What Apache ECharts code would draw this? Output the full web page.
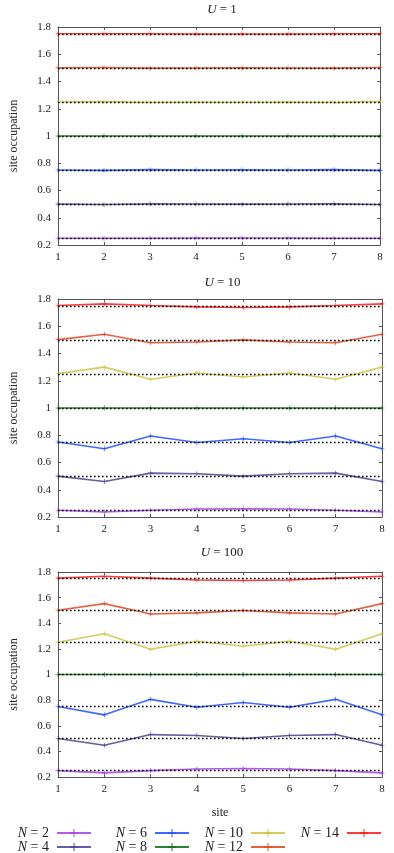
<!DOCTYPE html>
<html>
<head>
<meta charset="utf-8">
<script src="https://cdn.jsdelivr.net/npm/echarts@6/dist/echarts.min.js"></script>
<style>
html,body{margin:0;padding:0;background:#fff}
#chart{width:394px;height:853px}
</style>
</head>
<body>
<div id="chart"></div>
<script>
// sites along the chain
var sites = [1, 2, 3, 4, 5, 6, 7, 8]
var names = ['N = 2', 'N = 4', 'N = 6', 'N = 8', 'N = 10', 'N = 12', 'N = 14']
var colors = ['#a53ee6', '#4b3f8f', '#1f4dff', '#0b6e10', '#c9c642', '#e0441e', '#ff1a1a']
// N/L reference levels (dotted)
var refLevels = [0.25, 0.5, 0.75, 1, 1.25, 1.5, 1.75]
var panelTitles = ['1', '10', '100']

// U = 1
var u1_n2  = [0.25, 0.249, 0.25, 0.251, 0.251, 0.251, 0.25, 0.249]
var u1_n4  = [0.5, 0.497, 0.502, 0.501, 0.5, 0.501, 0.502, 0.497]
var u1_n6  = [0.75, 0.748, 0.753, 0.75, 0.752, 0.75, 0.753, 0.748]
var u1_n8  = [1, 1, 1, 1, 1, 1, 1, 1]
var u1_n10 = [1.25, 1.252, 1.247, 1.25, 1.248, 1.25, 1.247, 1.252]
var u1_n12 = [1.5, 1.503, 1.498, 1.499, 1.5, 1.499, 1.498, 1.503]
var u1_n14 = [1.75, 1.751, 1.75, 1.749, 1.749, 1.749, 1.75, 1.751]

// U = 10
var u10_n2  = [0.249, 0.237, 0.249, 0.259, 0.261, 0.259, 0.249, 0.237]
var u10_n4  = [0.5, 0.461, 0.522, 0.517, 0.5, 0.517, 0.522, 0.461]
var u10_n6  = [0.75, 0.701, 0.794, 0.747, 0.774, 0.747, 0.794, 0.701]
var u10_n8  = [1, 1, 1, 1, 1, 1, 1, 1]
var u10_n10 = [1.252, 1.3, 1.211, 1.257, 1.228, 1.257, 1.211, 1.3]
var u10_n12 = [1.502, 1.541, 1.479, 1.484, 1.5, 1.484, 1.479, 1.541]
var u10_n14 = [1.752, 1.764, 1.752, 1.742, 1.738, 1.742, 1.752, 1.764]

// U = 100
var u100_n2  = [0.25, 0.232, 0.25, 0.262, 0.266, 0.262, 0.25, 0.232]
var u100_n4  = [0.5, 0.448, 0.531, 0.524, 0.5, 0.524, 0.531, 0.448]
var u100_n6  = [0.75, 0.685, 0.806, 0.745, 0.782, 0.745, 0.806, 0.685]
var u100_n8  = [1, 1, 1, 1, 1, 1, 1, 1]
var u100_n10 = [1.252, 1.318, 1.197, 1.259, 1.221, 1.259, 1.197, 1.318]
var u100_n12 = [1.502, 1.553, 1.472, 1.481, 1.5, 1.481, 1.472, 1.553]
var u100_n14 = [1.752, 1.767, 1.752, 1.738, 1.734, 1.738, 1.752, 1.767]

var panels = [
    [u1_n2, u1_n4, u1_n6, u1_n8, u1_n10, u1_n12, u1_n14],
    [u10_n2, u10_n4, u10_n6, u10_n8, u10_n10, u10_n12, u10_n14],
    [u100_n2, u100_n4, u100_n6, u100_n8, u100_n10, u100_n12, u100_n14]
]

var font = 'Liberation Serif'
var frame = '#555'
var plus = 'path://M4.4,0h1.2v10h-1.2z M0,4.4h10v1.2h-10z'

var grids = [
    {left: 54, right: 14, top: 27, height: 218},
    {left: 53, right: 12, top: 299, height: 218},
    {left: 52, right: 12, top: 572, height: 205}
]
var titleTops = [-2, 271, 541]

var xAxes = [], yAxes = [], series = [], titles = []
grids.forEach(function(g, i){
    titles.push({
        text: '{i|U} = ' + panelTitles[i],
        left: g.left + (394 - g.left - g.right) / 2, top: titleTops[i],
        textAlign: 'center',
        textStyle: {fontFamily: font, fontSize: 13, fontWeight: 'normal', color: '#222',
            rich: {i: {fontFamily: font, fontSize: 13, fontStyle: 'italic', color: '#222'}}}
    })
    var tick = {show: true, inside: true, length: 3, lineStyle: {color: frame}}
    xAxes.push({
        type: 'category', gridIndex: i, data: sites, boundaryGap: false,
        axisLine: {lineStyle: {color: frame, width: 1}},
        axisTick: tick,
        axisLabel: {margin: 7, fontFamily: font, fontSize: 11, color: '#222'},
        name: i == 2 ? 'site' : '', nameLocation: 'middle', nameGap: 30,
        nameTextStyle: {fontFamily: font, fontSize: 12, color: '#222'}
    })
    xAxes.push({
        type: 'category', gridIndex: i, data: sites, boundaryGap: false, position: 'top',
        axisLine: {lineStyle: {color: frame, width: 1}},
        axisTick: tick, axisLabel: {show: false}
    })
    yAxes.push({
        type: 'value', gridIndex: i, min: 0.2, max: 1.8, interval: 0.2,
        axisLine: {show: true, lineStyle: {color: frame, width: 1}},
        axisTick: tick, splitLine: {show: false},
        axisLabel: {margin: 7, fontFamily: font, fontSize: 11, color: '#222'},
        name: 'site occupation', nameLocation: 'middle', nameGap: 38,
        nameTextStyle: {fontFamily: font, fontSize: 12, color: '#222'}
    })
    yAxes.push({
        type: 'value', gridIndex: i, min: 0.2, max: 1.8, interval: 0.2, position: 'right',
        axisLine: {show: true, lineStyle: {color: frame, width: 1}},
        axisTick: tick, splitLine: {show: false}, axisLabel: {show: false}
    })
    panels[i].forEach(function(vals, k){
        series.push({
            name: names[k], type: 'line',
            xAxisIndex: i * 2, yAxisIndex: i * 2,
            data: vals,
            color: colors[k],
            symbol: plus, symbolSize: 5, showSymbol: true,
            lineStyle: {width: 1.6, opacity: 0.85},
            itemStyle: {color: colors[k]},
            emphasis: {disabled: true},
            animation: false,
            markLine: {
                silent: true, symbol: 'none', animation: false,
                label: {show: false},
                lineStyle: {color: '#000', type: [1.6, 2.4], width: 1.4, opacity: 1},
                data: [{yAxis: refLevels[k]}]
            }
        })
    })
})

var legendStyle = {
    orient: 'vertical', top: 826, height: 30, align: 'right', padding: 0,
    itemWidth: 34, itemHeight: 10, itemGap: 0,
    formatter: function(n){ return n.replace('N', '{i|N}') + '{g| }' },
    textStyle: {fontFamily: font, fontSize: 14, lineHeight: 13, color: '#222',
        rich: {
            i: {fontFamily: font, fontSize: 14, lineHeight: 13, fontStyle: 'italic', color: '#222'},
            g: {fontSize: 14, lineHeight: 13, width: 3}
        }}
}
var legendCols = [[0, 1, 302], [2, 3, 204], [4, 5, 108], [6, null, 12]]
var legends = legendCols.map(function(c){
    var d = [names[c[0]]]
    if(c[1] != null) d.push(names[c[1]])
    return Object.assign({}, legendStyle, {data: d, right: c[2]})
})

var chart = echarts.init(document.getElementById('chart'))
chart.setOption({
    backgroundColor: '#fff',
    animation: false,
    title: titles,
    grid: grids,
    xAxis: xAxes,
    yAxis: yAxes,
    legend: legends,
    series: series
})
</script>
</body>
</html>
